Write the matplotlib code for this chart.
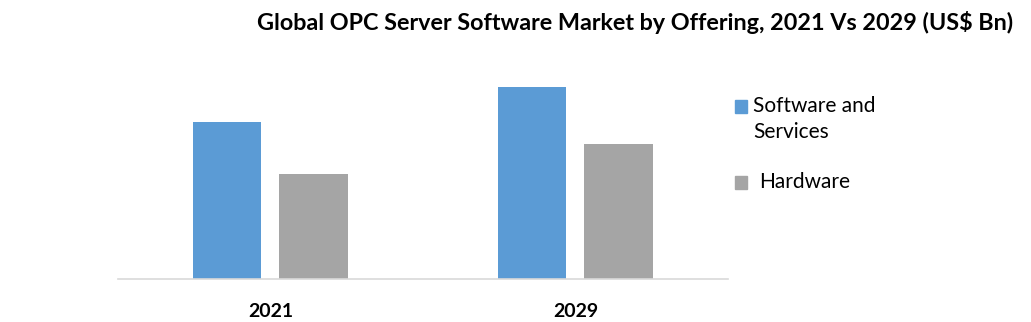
import matplotlib.pyplot as plt
from matplotlib.patches import Rectangle
import numpy as np

years = ['2021', '2029']
software_services = [1.57, 1.92]
hardware = [1.05, 1.35]
series_names = [['Software and', 'Services'], ['Hardware']]
colors = ['#5b9bd5', '#a5a5a5']
title = 'Global OPC Server Software Market by Offering, 2021 Vs 2029 (US$ Bn)'

plt.rcParams['font.family'] = ['Lato', 'DejaVu Sans']

W, H = 1031, 322
fig = plt.figure(figsize=(W / 100, H / 100), dpi=100)
ax = fig.add_axes([118 / W, 43 / H, 610 / W, 219 / H])

x = np.arange(len(years))
w = 0.223
ax.bar(x - 0.143, software_services, width=w, color=colors[0])
ax.bar(x + 0.141, hardware, width=w, color=colors[1])

ax.set_xlim(-0.5, 1.5)
ax.set_ylim(0, 2.19)
ax.set_xticks(x)
ax.set_xticklabels(years, fontsize=14, fontweight='bold')
ax.tick_params(axis='x', length=0, pad=17)
ax.set_yticks([])
for side in ['top', 'right', 'left']:
    ax.spines[side].set_visible(False)
ax.spines['bottom'].set_color('#d9d9d9')
ax.spines['bottom'].set_linewidth(1.2)

fig.text(1013 / W, 1 - 23 / H, title, ha='right', va='center', fontsize=16.8, fontweight='bold')

# legend drawn by hand: the square sits beside the first line of text
legend_rows = [(106, 753), (182, 759)]
for (yc, xt), lines, c in zip(legend_rows, series_names, colors):
    fig.patches.append(Rectangle((735 / W, 1 - (yc + 6.5) / H), 12 / W, 13 / H,
                                 transform=fig.transFigure, color=c))
    for i, line in enumerate(lines):
        fig.text(xt / W, 1 - (yc + 26 * i) / H, line, ha='left', va='center', fontsize=15)

fig.savefig('out.png', dpi=100)
